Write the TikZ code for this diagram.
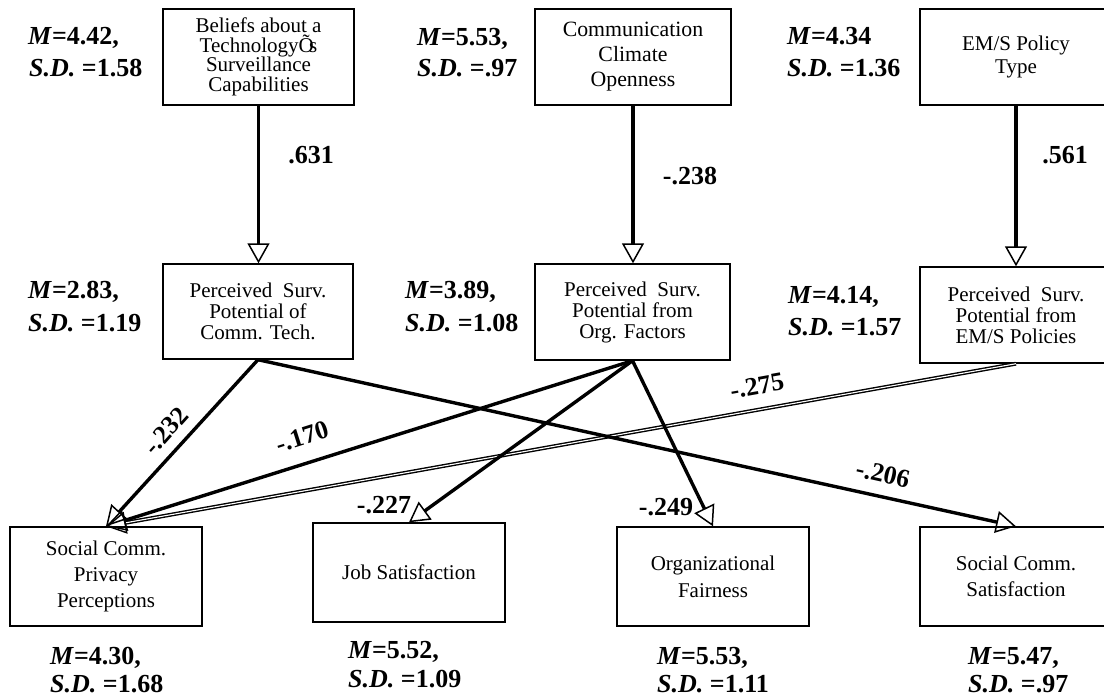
\documentclass[tikz,border=0pt]{standalone}
\usepackage{fontspec}
\setmainfont{Liberation Serif}
\usetikzlibrary{arrows.meta}
\begin{document}
\begin{tikzpicture}[x=1pt,y=-1pt,
  box/.style={draw, line width=1.4pt, inner sep=0pt, align=center},
  boxfont/.style={font=\fontsize{21}{#1}\selectfont},
  stat/.style={font=\bfseries\fontsize{26}{30}\selectfont, anchor=base west, inner sep=0pt},
  coef/.style={font=\bfseries\fontsize{26}{30}\selectfont, inner sep=0pt},
  link/.style={line width=3.4pt, -{Triangle[open, length=20pt, width=22pt, line width=1.5pt]}},
  dbl/.style={line width=1.4pt, double, double distance=1.1pt, -{Triangle[open, length=20pt, width=22pt, line width=1.4pt]}}]

\path[use as bounding box, clip] (0,0) rectangle (1104,698);

% predictors
\node[box, boxfont=19.5, minimum width=191pt, minimum height=96pt] (bel) at (258.5,57)
  {Beliefs about a\\Technology\rlap{Õ}\hspace{0.5em}s\\Surveillance\\Capabilities};
\node[box, font=\fontsize{21.8}{25}\selectfont, minimum width=196pt, minimum height=96pt] (cco) at (633,57)
  {Communication\\Climate\\Openness};
\node[box, boxfont=23, minimum width=192pt, minimum height=96pt] (ems) at (1016,57)
  {EM/S Policy\\Type};

% mediators
\node[box, boxfont=21, minimum width=190pt, minimum height=95pt] (psA) at (258,311.5)
  {Perceived~~Surv.\\Potential of\\Comm. Tech.};
\node[box, boxfont=21, minimum width=195pt, minimum height=96pt] (psB) at (632.5,312)
  {Perceived~~Surv.\\Potential from\\Org. Factors};
\node[box, boxfont=21, minimum width=192pt, minimum height=96pt] (psC) at (1016,315)
  {Perceived~~Surv.\\Potential from\\EM/S Policies};

% outcomes
\node[box, boxfont=26, minimum width=192pt, minimum height=99pt] (priv) at (106,576.5)
  {Social Comm.\\Privacy\\Perceptions};
\node[box, boxfont=26, minimum width=192pt, minimum height=99pt] (job) at (409,572.5)
  {Job Satisfaction};
\node[box, boxfont=27, minimum width=192pt, minimum height=99pt] (org) at (713,576.5)
  {Organizational\\Fairness};
\node[box, boxfont=26, minimum width=192pt, minimum height=99pt] (ssat) at (1016,576.5)
  {Social Comm.\\Satisfaction};

% means and standard deviations
\node[stat] (mBel) at (28,45) {\textit{M}=4.42,};
\node[stat] (sBel) at (29,77) {\textit{S.D.} =1.58};
\node[stat] (mCco) at (417,46) {\textit{M}=5.53,};
\node[stat] (sCco) at (417,77) {\textit{S.D.} =.97};
\node[stat] (mEms) at (787,45) {\textit{M}=4.34};
\node[stat] (sEms) at (787,77) {\textit{S.D.} =1.36};
\node[stat] (mPsA) at (28,298) {\textit{M}=2.83,};
\node[stat] (sPsA) at (28,331) {\textit{S.D.} =1.19};
\node[stat] (mPsB) at (405,298) {\textit{M}=3.89,};
\node[stat] (sPsB) at (405,331) {\textit{S.D.} =1.08};
\node[stat] (mPsC) at (788,303) {\textit{M}=4.14,};
\node[stat] (sPsC) at (788,335) {\textit{S.D.} =1.57};
\node[stat] (mPriv) at (50,664) {\textit{M}=4.30,};
\node[stat] (sPriv) at (50,692) {\textit{S.D.} =1.68};
\node[stat] (mJob) at (348,658) {\textit{M}=5.52,};
\node[stat] (sJob) at (348,687) {\textit{S.D.} =1.09};
\node[stat] (mOrg) at (657,664) {\textit{M}=5.53,};
\node[stat] (sOrg) at (657,692) {\textit{S.D.} =1.11};
\node[stat] (mSsat) at (968,664) {\textit{M}=5.47,};
\node[stat] (sSsat) at (968,692) {\textit{S.D.} =.97};

% paths
\draw[link] (bel.south) -- (bel.south |- psA.north);
\draw[link] (cco.south) -- (cco.south |- psB.north);
\draw[link] (ems.south) -- (ems.south |- psC.north);
\draw[dbl] (psC.south) -- (priv.north);
\draw[link] (psA.south) -- (priv.north);
\draw[link] (psA.south) -- (ssat.north);
\draw[link] (psB.south) -- (priv.north);
\draw[link] (psB.south) -- (job.north);
\draw[link] (psB.south) -- (org.north);

% path coefficients
\node[coef] (c631) at (311,155) {.631};
\node[coef] (c238) at (690,176) {-.238};
\node[coef] (c561) at (1065,155) {.561};
\node[coef, rotate=48] (c232) at (166,431) {-.232};
\node[coef, rotate=17.6] (c170) at (302,437) {-.170};
\node[coef, rotate=10.2] (c275) at (757,386) {-.275};
\node[coef, rotate=-12.5] (c206) at (883,474) {-.206};
\node[coef] (c227) at (384,505) {-.227};
\node[coef] (c249) at (666,507) {-.249};
\end{tikzpicture}
\end{document}
